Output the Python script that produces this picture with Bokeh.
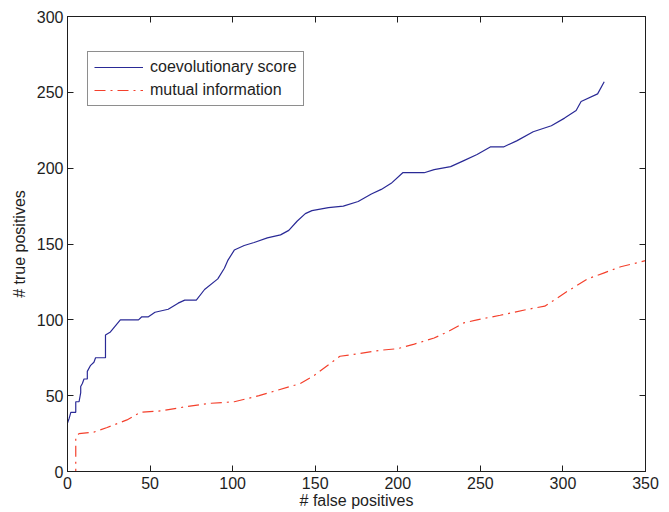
from bokeh.plotting import figure
from bokeh.models import Range1d, LinearAxis, FixedTicker, Legend, LegendItem, CustomJSTickFormatter
from bokeh.embed import file_html
from bokeh.resources import INLINE

# ---- data ----
coev_x = [0, 1, 2, 5, 5, 7, 8, 8, 9, 10, 12, 12, 14, 16, 17, 23, 23, 26, 29, 32, 43, 45, 49, 53,
          61, 67, 71, 78, 83, 91, 95, 97, 101, 107, 113, 121, 129, 134, 139, 144, 148, 158, 167,
          176, 184, 190, 196, 203, 216, 222, 232, 240, 248, 256, 264, 272, 282, 293, 301, 308,
          311, 321, 325]
coev_y = [32, 35, 39, 39, 46, 46, 52, 56, 58, 61, 61, 66, 70, 72, 75, 75, 90, 92, 96, 100, 100, 102,
          102, 105, 107, 111, 113, 113, 120, 127, 134, 139, 146, 149, 151, 154, 156, 159, 165, 170,
          172, 174, 175, 178, 183, 186, 190, 197, 197, 199, 201, 205, 209, 214, 214, 218, 224, 228,
          233, 238, 244, 249, 257]

mi_x = [0, 5, 5, 6, 7, 16, 24, 36, 44, 57, 73, 87, 101, 116, 141, 149, 165, 172, 190, 200, 210,
        222, 230, 240, 248, 262, 279, 289, 296, 303, 315, 325, 335, 350]
mi_y = [0, 0, 22, 24, 25, 26, 29, 34, 39, 40, 43, 45, 46, 50, 58, 63, 76, 77, 80, 81, 84, 88, 92,
        98, 100, 103, 107, 109, 114, 119, 127, 131, 135, 139]

x_ticks = [0, 50, 100, 150, 200, 250, 300, 350]
y_ticks = [0, 50, 100, 150, 200, 250, 300]

BLUE = "#2a2a96"
RED = "#f4402c"
INK = "#1e1e1e"
FONT = "Liberation Sans"
FS = "16px"

p = figure(frame_width=578, frame_height=455,
           x_range=Range1d(0, 350), y_range=Range1d(0, 300),
           output_backend="svg", toolbar_location=None,
           min_border_left=67, min_border_right=24, min_border_top=16, min_border_bottom=0)
p.grid.visible = False
p.outline_line_color = INK
p.outline_line_width = 1
p.background_fill_color = "white"
p.border_fill_color = "white"

r1 = p.line(coev_x, coev_y, line_color=BLUE, line_width=1.2)
r2 = p.line(mi_x, mi_y, line_color=RED, line_width=1.2, line_dash="11 5 2 5")


def style(ax, ticks):
    ax.ticker = FixedTicker(ticks=ticks)
    ax.major_tick_in = 6
    ax.major_tick_out = 0
    ax.minor_tick_in = 0
    ax.minor_tick_out = 0
    ax.axis_line_color = INK
    ax.major_tick_line_color = INK
    ax.major_label_text_font = FONT
    ax.major_label_text_font_size = FS
    ax.major_label_text_color = INK
    ax.axis_label_text_font = FONT
    ax.axis_label_text_font_size = FS
    ax.axis_label_text_font_style = "normal"
    ax.axis_label_text_color = INK


style(p.xaxis[0], x_ticks)
style(p.yaxis[0], y_ticks)
p.xaxis[0].axis_label = "# false positives"
p.yaxis[0].axis_label = "# true positives"
p.xaxis[0].major_label_standoff = 5
p.xaxis[0].axis_label_standoff = 0
p.yaxis[0].major_label_standoff = 4
p.yaxis[0].axis_label_standoff = 6

for loc, ticks in (("right", y_ticks), ("above", x_ticks)):
    ax = LinearAxis()
    style(ax, ticks)
    ax.formatter = CustomJSTickFormatter(code="return ''")
    ax.major_label_text_font_size = "0px"
    ax.major_label_standoff = 0
    p.add_layout(ax, loc)

legend = Legend(items=[LegendItem(label="coevolutionary score", renderers=[r1]),
                       LegendItem(label="mutual information", renderers=[r2])],
                location=(20, 365), orientation="vertical",
                padding=6, spacing=5, glyph_height=16, glyph_width=49, label_standoff=7,
                margin=0,
                label_text_font=FONT, label_text_font_size=FS, label_text_color=INK,
                border_line_color=INK, border_line_width=1,
                background_fill_color="white", background_fill_alpha=1.0)
p.add_layout(legend, "center")

open("out.html", "w").write(file_html(p, INLINE))
